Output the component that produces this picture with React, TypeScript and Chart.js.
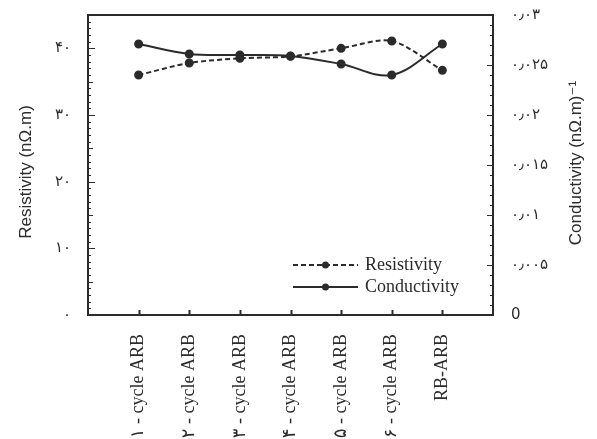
import React, { useEffect, useRef } from "react";
import { Chart, registerables } from "chart.js";

Chart.register(...registerables);

// ---- Data ----
const categories = [
  "۱ - cycle ARB",
  "۲ - cycle ARB",
  "۳ - cycle ARB",
  "۴ - cycle ARB",
  "۵ - cycle ARB",
  "۶ - cycle ARB",
  "RB-ARB",
];
const resistivity = [36.0, 37.8, 38.5, 38.8, 40.0, 41.1, 36.7];
const conductivity = [0.0271, 0.0261, 0.026, 0.0259, 0.0251, 0.024, 0.0271];

const leftTickValues = [0, 10, 20, 30, 40];
const leftTickLabels = ["۰", "۱۰", "۲۰", "۳۰", "۴۰"];
const rightTickValues = [0, 0.005, 0.01, 0.015, 0.02, 0.025, 0.03];
const rightTickLabels = ["0", "۰٫۰۰۵", "۰٫۰۱", "۰٫۰۱۵", "۰٫۰۲", "۰٫۰۲۵", "۰٫۰۳"];

const leftTitle = "Resistivity (nΩ.m)";
const rightTitle = "Conductivity (nΩ.m)⁻¹";

const W = 581;
const H = 480;
const INK = "#2b2b2b";
const SERIF = "'Liberation Serif', 'DejaVu Serif', 'DejaVu Sans', serif";
const SANS = "'Liberation Sans', 'DejaVu Sans', sans-serif";
const DIGITS = "'DejaVu Sans', sans-serif";

const framePlugin = {
  id: "framePlugin",
  afterDraw(chart: any) {
    const { ctx, chartArea: a, scales } = chart;
    ctx.save();
    ctx.strokeStyle = INK;
    ctx.lineWidth = 2;
    ctx.strokeRect(a.left, a.top, a.right - a.left, a.bottom - a.top);

    ctx.lineWidth = 1;
    // left minor ticks (inside)
    const ys = scales.y;
    for (let v = 0; v <= ys.max; v += 1) {
      const py = Math.round(ys.getPixelForValue(v)) + 0.5;
      const len = v % 10 === 0 ? 7 : v % 5 === 0 ? 5 : 3;
      ctx.beginPath();
      ctx.moveTo(a.left, py);
      ctx.lineTo(a.left + len, py);
      ctx.stroke();
    }
    // right minor ticks (inside)
    const y1 = scales.y1;
    for (let k = 0; k <= 30; k++) {
      const py = Math.round(y1.getPixelForValue(k * 0.001)) + 0.5;
      const len = k % 5 === 0 ? 6 : 3;
      ctx.beginPath();
      ctx.moveTo(a.right, py);
      ctx.lineTo(a.right - len, py);
      ctx.stroke();
    }
    // x ticks
    const xs = scales.x;
    for (let i = 1; i <= categories.length; i++) {
      const px = Math.round(xs.getPixelForValue(i)) + 0.5;
      ctx.lineWidth = 2;
      ctx.beginPath();
      ctx.moveTo(px, a.bottom);
      ctx.lineTo(px, a.bottom - 5);
      ctx.stroke();
    }

    // axis titles
    ctx.fillStyle = INK;
    ctx.font = `17px ${SANS}`;
    ctx.textAlign = "center";
    ctx.textBaseline = "middle";
    ctx.save();
    ctx.translate(18, 164);
    ctx.rotate(-Math.PI / 2);
    ctx.fillText(leftTitle, 0, 0);
    ctx.restore();
    ctx.save();
    ctx.translate(568, 155);
    ctx.rotate(-Math.PI / 2);
    ctx.fillText(rightTitle, 0, 0);
    ctx.restore();

    // legend
    const x0 = 285;
    const x1 = 350;
    chart.data.datasets.forEach((ds: any, i: number) => {
      const py = 257 + i * 22;
      ctx.strokeStyle = ds.borderColor;
      ctx.lineWidth = ds.borderWidth;
      ctx.setLineDash(ds.borderDash || []);
      ctx.beginPath();
      ctx.moveTo(x0, py);
      ctx.lineTo(x1, py);
      ctx.stroke();
      ctx.setLineDash([]);
      ctx.fillStyle = ds.pointBackgroundColor;
      ctx.beginPath();
      ctx.arc((x0 + x1) / 2, py, 3.5, 0, Math.PI * 2);
      ctx.fill();
      ctx.fillStyle = INK;
      ctx.font = `18px ${SERIF}`;
      ctx.textAlign = "left";
      ctx.textBaseline = "middle";
      ctx.fillText(ds.label, x1 + 7, py);
    });
    ctx.restore();
  },
};

const zeroPad = (s: any) => {
  s.paddingTop = 0;
  s.paddingBottom = 0;
  s.paddingLeft = 0;
  s.paddingRight = 0;
};

export default function App() {
  const ref = useRef<HTMLCanvasElement | null>(null);
  useEffect(() => {
    document.documentElement.style.overflow = "hidden";
    document.body.style.overflow = "hidden";
    if (!ref.current) return;
    const chart = new Chart(ref.current, {
      type: "line",
      data: {
        datasets: [
          {
            label: "Resistivity",
            data: resistivity.map((v, i) => ({ x: i + 1, y: v })),
            yAxisID: "y",
            borderColor: INK,
            backgroundColor: INK,
            pointBackgroundColor: INK,
            pointBorderColor: INK,
            borderWidth: 2,
            borderDash: [5, 3],
            pointRadius: 3.5,
            tension: 0.3,
          },
          {
            label: "Conductivity",
            data: conductivity.map((v, i) => ({ x: i + 1, y: v })),
            yAxisID: "y1",
            borderColor: INK,
            backgroundColor: INK,
            pointBackgroundColor: INK,
            pointBorderColor: INK,
            borderWidth: 2,
            pointRadius: 3.5,
            tension: 0.35,
          },
        ],
      },
      options: {
        animation: false,
        responsive: false,
        layout: { padding: { top: 7, left: 0, right: 0, bottom: 0 } },
        plugins: { legend: { display: false }, tooltip: { enabled: false } },
        scales: {
          x: {
            type: "linear",
            min: 0,
            max: categories.length + 1,
            grid: { display: false },
            border: { display: false },
            ticks: {
              stepSize: 1,
              autoSkip: false,
              maxRotation: 90,
              minRotation: 90,
              padding: 11,
              color: INK,
              font: { size: 18, family: SERIF },
              callback: (v: any) => categories[Number(v) - 1] ?? "",
            },
            afterFit: (s: any) => {
              s.height = H - 307;
              zeroPad(s);
            },
          },
          y: {
            type: "linear",
            position: "left",
            min: 0,
            max: 45,
            grid: { display: false },
            border: { display: false },
            afterBuildTicks: (s: any) => {
              s.ticks = leftTickValues.map((v) => ({ value: v }));
            },
            ticks: {
              padding: 9,
              color: INK,
              font: { size: 15, family: DIGITS },
              callback: (v: any) => {
                const i = leftTickValues.indexOf(Number(v));
                return i >= 0 ? leftTickLabels[i] : "";
              },
            },
            afterFit: (s: any) => {
              s.width = 80;
              zeroPad(s);
            },
          },
          y1: {
            type: "linear",
            position: "right",
            min: 0,
            max: 0.03,
            grid: { display: false },
            border: { display: false },
            afterBuildTicks: (s: any) => {
              s.ticks = rightTickValues.map((v) => ({ value: v }));
            },
            ticks: {
              padding: 10,
              color: INK,
              font: { size: 15, family: DIGITS },
              callback: (v: any) => {
                const i = rightTickValues.findIndex((t) => Math.abs(t - Number(v)) < 1e-9);
                return i >= 0 ? rightTickLabels[i] : "";
              },
            },
            afterFit: (s: any) => {
              s.width = 96;
              zeroPad(s);
            },
          },
        },
      } as any,
      plugins: [framePlugin],
    });
    return () => chart.destroy();
  }, []);
  return (
    <div style={{ width: W, height: 431, overflow: "hidden" }}>
      <canvas ref={ref} width={W} height={H} style={{ display: "block", width: W, height: H }} />
    </div>
  );
}
